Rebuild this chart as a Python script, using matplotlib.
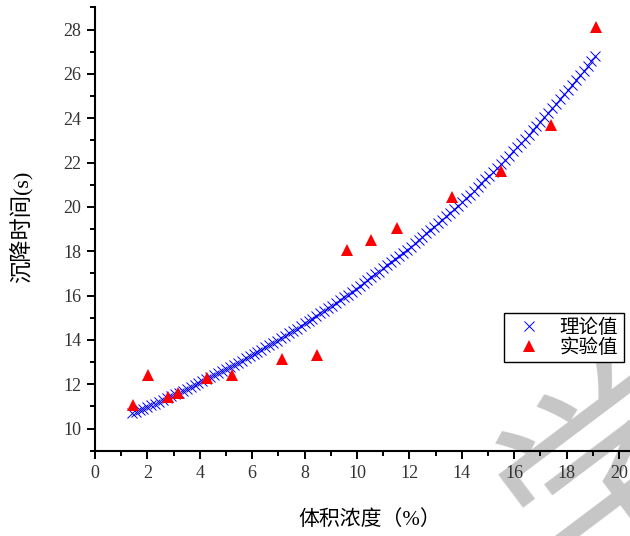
import matplotlib
matplotlib.use("Agg")
import matplotlib.pyplot as plt
from matplotlib.ticker import MultipleLocator

plt.rcParams['font.family'] = ['Liberation Serif', 'Noto Sans CJK SC']

# 理论值 (theoretical curve)
theory_x = [1.40, 1.55, 1.70, 1.85, 2.00, 2.15, 2.30, 2.45, 2.60, 2.75,
            2.90, 3.05, 3.20, 3.35, 3.50, 3.65, 3.80, 3.95, 4.10, 4.25,
            4.40, 4.55, 4.70, 4.85, 5.00, 5.15, 5.30, 5.45, 5.60, 5.75,
            5.90, 6.05, 6.20, 6.35, 6.50, 6.65, 6.80, 6.95, 7.10, 7.25,
            7.40, 7.55, 7.70, 7.85, 8.00, 8.15, 8.30, 8.45, 8.60, 8.75,
            8.90, 9.05, 9.20, 9.35, 9.50, 9.65, 9.80, 9.95, 10.10, 10.25,
            10.40, 10.55, 10.70, 10.85, 11.00, 11.15, 11.30, 11.45, 11.60, 11.75,
            11.90, 12.05, 12.20, 12.35, 12.50, 12.65, 12.80, 12.95, 13.10, 13.25,
            13.40, 13.55, 13.70, 13.85, 14.00, 14.15, 14.30, 14.45, 14.60, 14.75,
            14.90, 15.05, 15.20, 15.35, 15.50, 15.65, 15.80, 15.95, 16.10, 16.25,
            16.40, 16.55, 16.70, 16.85, 17.00, 17.15, 17.30, 17.45, 17.60, 17.75,
            17.90, 18.05, 18.20, 18.35, 18.50, 18.65, 18.80, 18.95, 19.10]
theory_y = [10.68, 10.75, 10.83, 10.90, 10.98, 11.06, 11.13, 11.21, 11.29, 11.37,
            11.46, 11.54, 11.62, 11.70, 11.79, 11.87, 11.96, 12.05, 12.14, 12.22,
            12.31, 12.40, 12.50, 12.59, 12.68, 12.77, 12.87, 12.96, 13.06, 13.16,
            13.26, 13.36, 13.46, 13.56, 13.66, 13.76, 13.87, 13.97, 14.08, 14.19,
            14.29, 14.40, 14.51, 14.62, 14.74, 14.85, 14.96, 15.08, 15.20, 15.31,
            15.43, 15.55, 15.67, 15.80, 15.92, 16.04, 16.17, 16.30, 16.43, 16.55,
            16.69, 16.82, 16.95, 17.08, 17.22, 17.36, 17.50, 17.63, 17.78, 17.92,
            18.06, 18.21, 18.35, 18.50, 18.65, 18.80, 18.95, 19.11, 19.26, 19.42,
            19.57, 19.73, 19.89, 20.06, 20.22, 20.39, 20.55, 20.72, 20.89, 21.06,
            21.24, 21.41, 21.59, 21.77, 21.95, 22.13, 22.31, 22.50, 22.68, 22.87,
            23.06, 23.26, 23.45, 23.65, 23.85, 24.04, 24.25, 24.45, 24.66, 24.86,
            25.07, 25.28, 25.50, 25.71, 25.93, 26.15, 26.37, 26.60, 26.82]

# 实验值 (measured)
exp_x = [1.44, 2.01, 2.77, 3.18, 4.29, 5.24, 7.15, 8.46, 9.63, 10.55,
         11.53, 13.61, 15.51, 17.42, 19.13]
exp_y = [11.07, 12.42, 11.44, 11.60, 12.28, 12.42, 13.15, 13.33, 18.04, 18.49,
         19.05, 20.45, 21.63, 23.70, 28.12]

fig = plt.figure(figsize=(6.3, 5.36), dpi=100)
ax = fig.add_axes([0.1508, 0.1591, 0.8492, 0.8272])
ax.patch.set_visible(False)

# watermark, sits behind the axes
fig.text(615 / 630, 1 - 480 / 536, '学', fontsize=150, rotation=37,
         color='#c6c6c6', ha='center', va='center', zorder=-5,
         family='Noto Sans CJK SC')

ax.plot(theory_x, theory_y, linestyle='none', marker='x', color='blue',
        ms=7, mew=0.7, label='理论值', zorder=2)
ax.plot(exp_x, exp_y, linestyle='none', marker='^', color='red',
        ms=9, mew=0, label='实验值', zorder=3)

ax.set_xlim(0, 20.42)
ax.set_ylim(9, 29)
ax.xaxis.set_major_locator(MultipleLocator(2))
ax.xaxis.set_minor_locator(MultipleLocator(1))
ax.yaxis.set_minor_locator(MultipleLocator(1))
ax.set_yticks(range(10, 29, 2))

for s in ['top', 'right']:
    ax.spines[s].set_visible(False)
for s in ['left', 'bottom']:
    ax.spines[s].set_linewidth(1.5)

ax.tick_params(which='major', direction='out', length=6, width=1.4,
               labelsize=13, labelcolor='#333333', pad=4)
ax.tick_params(which='minor', direction='out', length=3.5, width=1.4)

ax.set_ylabel('沉降时间(s)', fontsize=16)
ax.yaxis.set_label_coords(-0.114, 0.505)
ax.set_xlabel('体积浓度（%）', fontsize=15)
ax.xaxis.set_label_coords(0.513, -0.133)

leg = ax.legend(loc='upper left', bbox_to_anchor=(504 / 630, 1 - 313 / 536),
                bbox_transform=fig.transFigure, borderaxespad=0,
                fontsize=14, handlelength=2.0, handletextpad=0.55,
                borderpad=0.3, labelspacing=0.05, fancybox=False,
                framealpha=1, edgecolor='black')
leg.get_frame().set_linewidth(1.0)

fig.savefig('out.png', dpi=100)
